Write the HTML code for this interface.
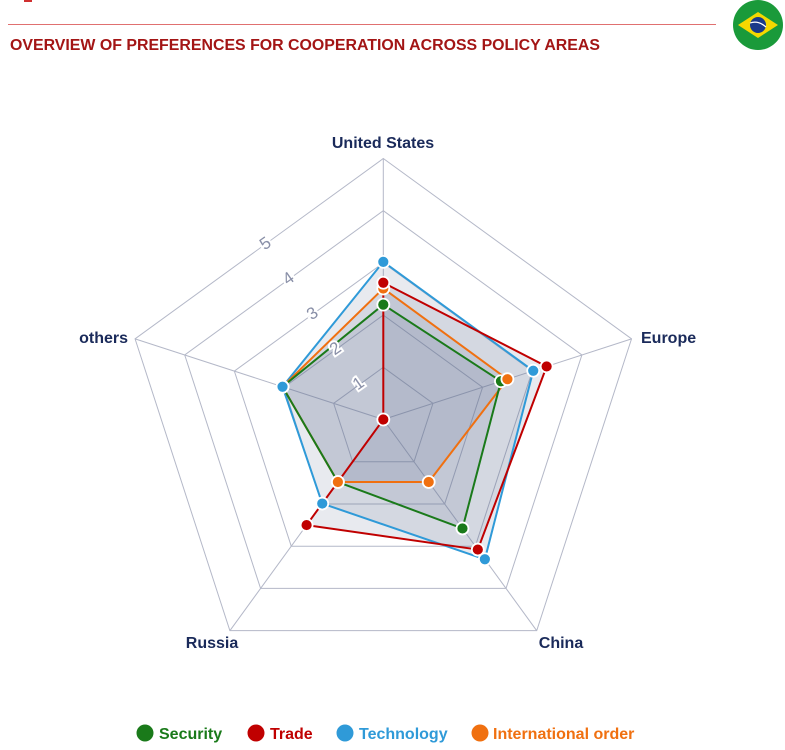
<!DOCTYPE html>
<html><head><meta charset="utf-8"><style>
body{margin:0;background:#fff;width:785px;height:745px;overflow:hidden;font-family:"Liberation Sans",sans-serif}
</style></head><body>
<svg width="785" height="745" viewBox="0 0 785 745" xmlns="http://www.w3.org/2000/svg" font-family="Liberation Sans, sans-serif">
<rect x="24" y="0" width="8" height="2" fill="#d03030"/>
<line x1="8" y1="24.5" x2="716" y2="24.5" stroke="#e07070" stroke-width="1"/>
<text x="10" y="50" font-size="15.5" font-weight="bold" fill="#a31515" textLength="590" lengthAdjust="spacingAndGlyphs">OVERVIEW OF PREFERENCES FOR COOPERATION ACROSS POLICY AREAS</text>
<circle cx="758" cy="25" r="25" fill="#1a9a3a"/>
<polygon points="738,25 758,12 778,25 758,38" fill="#f5d800"/>
<circle cx="758" cy="25" r="8" fill="#1a3a8a"/>
<path d="M750,23 Q758,20 766,27" stroke="#fff" stroke-width="1.2" fill="none"/>
<g id="grid" fill="none" stroke="#b4b8c8" stroke-width="1"></g>
<g id="series"></g>
<g font-size="17" fill="#8a90a8" stroke="#fff" stroke-width="4" paint-order="stroke">
<text x="358" y="389" transform="rotate(-35 358 383)" text-anchor="middle">1</text>
<text x="335" y="354" transform="rotate(-35 335 348)" text-anchor="middle">2</text>
<text x="312" y="319" transform="rotate(-35 312 313)" text-anchor="middle">3</text>
<text x="288" y="284" transform="rotate(-35 288 278)" text-anchor="middle">4</text>
<text x="265" y="249" transform="rotate(-35 265 243)" text-anchor="middle">5</text>
</g>
<g font-size="16" font-weight="bold" fill="#1a2a5a">
<text x="383" y="148" text-anchor="middle">United States</text>
<text x="641" y="343">Europe</text>
<text x="128" y="343" text-anchor="end">others</text>
<text x="212" y="648" text-anchor="middle">Russia</text>
<text x="561" y="648" text-anchor="middle">China</text>
</g>
<g font-size="16" font-weight="bold">
<circle cx="145" cy="733" r="8.5" fill="#1a7a1a"/><text x="159" y="739" fill="#1a7a1a">Security</text>
<circle cx="256" cy="733" r="8.5" fill="#c00000"/><text x="270" y="739" fill="#c00000">Trade</text>
<circle cx="345" cy="733" r="8.5" fill="#2f9ad8"/><text x="359" y="739" fill="#2f9ad8">Technology</text>
<circle cx="480" cy="733" r="8.5" fill="#f07010"/><text x="493" y="739" fill="#f07010">International order</text>
</g>
</svg>
<script>
const cx=383.3,cy=419.5,U=52.2,NS="http://www.w3.org/2000/svg";
const ang=[0,1,2,3,4].map(i=>-Math.PI/2+i*2*Math.PI/5);
const pt=(i,v)=>[cx+Math.cos(ang[i])*v*U,cy+Math.sin(ang[i])*v*U];
const g=document.getElementById('grid');
for(let r=1;r<=5;r++){const p=document.createElementNS(NS,'polygon');p.setAttribute('points',ang.map((a,i)=>pt(i,r).join(',')).join(' '));g.appendChild(p);}
ang.forEach((a,i)=>{const l=document.createElementNS(NS,'line');const e=pt(i,5);l.setAttribute('x1',cx);l.setAttribute('y1',cy);l.setAttribute('x2',e[0]);l.setAttribute('y2',e[1]);g.appendChild(l);});
const B=["#2f9ad8",[3.02,3.02,3.31,1.99,2.03]],R=["#c00000",[2.62,3.29,3.08,2.5,0]],O=["#f07010",[2.51,2.5,1.48,1.48,2.03]],G=["#1a7a1a",[2.2,2.37,2.58,1.48,2.03]];
const S=[B,R,O,G];
const s=document.getElementById('series');
S.forEach(([c,v])=>{const p=document.createElementNS(NS,'polygon');p.setAttribute('points',v.map((x,i)=>pt(i,x).join(',')).join(' '));p.setAttribute('fill','rgba(95,105,145,0.14)');s.appendChild(p);});
S.forEach(([c,v])=>{const p=document.createElementNS(NS,'polygon');p.setAttribute('points',v.map((x,i)=>pt(i,x).join(',')).join(' '));p.setAttribute('fill','none');p.setAttribute('stroke',c);p.setAttribute('stroke-width','2');s.appendChild(p);});
[G,O,R,B].forEach(([c,v])=>v.forEach((x,i)=>{const q=pt(i,x);const d=document.createElementNS(NS,'circle');d.setAttribute('cx',q[0]);d.setAttribute('cy',q[1]);d.setAttribute('r',6);d.setAttribute('fill',c);d.setAttribute('stroke','#fff');d.setAttribute('stroke-width','1.8');s.appendChild(d);}));
</script>
</body></html>
